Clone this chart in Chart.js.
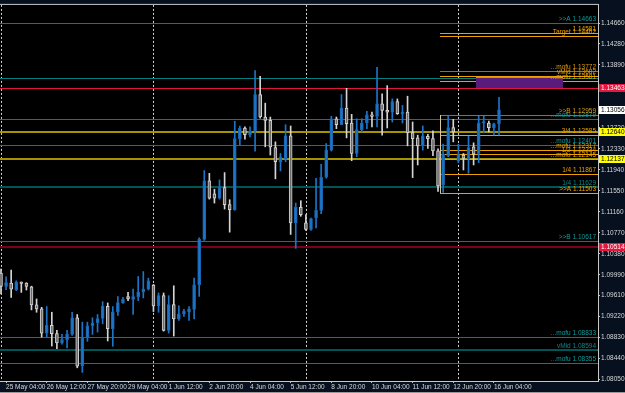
<!DOCTYPE html>
<html>
<head>
<meta charset="utf-8">
<script src="https://cdn.jsdelivr.net/npm/chart.js@4.4.0/dist/chart.umd.min.js"></script>
<style>
  html, body { margin: 0; padding: 0; background: #06101f; }
  #wrap { width: 625px; height: 393px; }
</style>
</head>
<body>
<div id="wrap"><canvas id="chart" width="625" height="393"></canvas></div>
<script>
// EURUSD H4, candle 0 = 25 May 00:00 ... candle 98 = 16 Jun 08:00
var open = [
  1.10022, 1.09775, 1.09838, 1.09715, 1.09856, 1.09838, 1.09770, 1.09433, 1.09359, 1.08909,
  1.09051, 1.08898, 1.08725, 1.08787, 1.08885, 1.09193, 1.08301, 1.08824, 1.09045, 1.09101,
  1.09180, 1.09407, 1.08990, 1.09303, 1.09475, 1.09585, 1.09536, 1.09585, 1.09672, 1.09727,
  1.09801, 1.09414, 1.09604, 1.08959, 1.09438, 1.09174, 1.09267, 1.09303, 1.09350, 1.09807,
  1.10649, 1.11737, 1.11497, 1.11416, 1.11613, 1.11294, 1.11202, 1.12522, 1.12719, 1.12596,
  1.12658, 1.13340, 1.12922, 1.12861, 1.12356, 1.12092, 1.12142, 1.12572, 1.10955, 1.11244,
  1.10955, 1.10833, 1.11047, 1.11189, 1.11803, 1.12308, 1.12891, 1.12780, 1.13088, 1.12811,
  1.12245, 1.12688, 1.12811, 1.12964, 1.12935, 1.13167, 1.13045, 1.13014, 1.13211, 1.12983,
  1.13014, 1.12632, 1.12535, 1.12387, 1.12566, 1.12522, 1.12295, 1.11663, 1.12203, 1.12725,
  1.12105, 1.12216, 1.12153, 1.12369, 1.12245, 1.12811, 1.12811, 1.12725, 1.12798
];
var high = [
  1.10096, 1.09954, 1.10078, 1.09880, 1.09860, 1.09845, 1.09780, 1.09543, 1.09388, 1.09401,
  1.09296, 1.08959, 1.08885, 1.08959, 1.09296, 1.09254, 1.09112, 1.09112, 1.09193, 1.09254,
  1.09493, 1.09469, 1.09401, 1.09585, 1.09573, 1.09665, 1.09727, 1.09960, 1.10052, 1.09930,
  1.09812, 1.09654, 1.09654, 1.09604, 1.09788, 1.09414, 1.09350, 1.09401, 1.09930, 1.10679,
  1.11927, 1.11877, 1.11582, 1.11755, 1.11890, 1.11386, 1.12843, 1.12756, 1.12738, 1.12738,
  1.13783, 1.13678, 1.13180, 1.12922, 1.12461, 1.12245, 1.12780, 1.12756, 1.11324, 1.11368,
  1.11110, 1.11047, 1.11785, 1.12043, 1.12430, 1.12935, 1.12922, 1.13340, 1.13456, 1.12972,
  1.12891, 1.12891, 1.13027, 1.13014, 1.13844, 1.13351, 1.13506, 1.13259, 1.13259, 1.13138,
  1.13309, 1.12830, 1.12585, 1.12756, 1.12603, 1.12664, 1.12332, 1.12419, 1.12940, 1.12879,
  1.12419, 1.12245, 1.12566, 1.12443, 1.12935, 1.12935, 1.12845, 1.12811, 1.13290
];
var low = [
  1.09635, 1.09715, 1.09573, 1.09696, 1.09665, 1.09709, 1.09340, 1.09296, 1.08835, 1.08835,
  1.08669, 1.08621, 1.08701, 1.08632, 1.08867, 1.08264, 1.08179, 1.08756, 1.08885, 1.08927,
  1.09082, 1.08762, 1.08664, 1.09235, 1.09462, 1.09512, 1.09254, 1.09512, 1.09562, 1.09709,
  1.09309, 1.09296, 1.08946, 1.08909, 1.08854, 1.09143, 1.09217, 1.09143, 1.09174, 1.09591,
  1.10630, 1.11397, 1.11324, 1.11397, 1.11213, 1.10784, 1.11189, 1.12411, 1.12511, 1.12553,
  1.12290, 1.12903, 1.12369, 1.12216, 1.11774, 1.11921, 1.12092, 1.10741, 1.10483, 1.11079,
  1.10815, 1.10815, 1.10863, 1.11128, 1.11785, 1.12290, 1.12706, 1.12780, 1.12535, 1.12111,
  1.12185, 1.12645, 1.12706, 1.12738, 1.12738, 1.12585, 1.12719, 1.12830, 1.12972, 1.12811,
  1.12387, 1.11797, 1.12032, 1.12308, 1.12338, 1.12203, 1.11540, 1.11521, 1.12185, 1.12461,
  1.12074, 1.11939, 1.11877, 1.12032, 1.12074, 1.12627, 1.12645, 1.12585, 1.12585
];
var close = [
  1.09775, 1.09849, 1.09727, 1.09856, 1.09831, 1.09775, 1.09433, 1.09359, 1.08909, 1.09051,
  1.08898, 1.08725, 1.08787, 1.08885, 1.09193, 1.08295, 1.08824, 1.09045, 1.09101, 1.09180,
  1.09407, 1.08990, 1.09303, 1.09475, 1.09536, 1.09543, 1.09585, 1.09672, 1.09727, 1.09880,
  1.09414, 1.09604, 1.08959, 1.09438, 1.09174, 1.09267, 1.09315, 1.09359, 1.09807, 1.10649,
  1.11737, 1.11416, 1.11416, 1.11613, 1.11294, 1.11202, 1.12522, 1.12719, 1.12596, 1.12658,
  1.13340, 1.12922, 1.12861, 1.12369, 1.12092, 1.12185, 1.12572, 1.10955, 1.11244, 1.11110,
  1.10833, 1.11036, 1.11189, 1.11803, 1.12308, 1.12891, 1.12780, 1.13088, 1.12798, 1.12245,
  1.12688, 1.12811, 1.12964, 1.12935, 1.13167, 1.13045, 1.13014, 1.13211, 1.12983, 1.13014,
  1.12632, 1.12522, 1.12387, 1.12572, 1.12522, 1.12295, 1.11644, 1.12234, 1.12725, 1.12645,
  1.12227, 1.12153, 1.12356, 1.12234, 1.12811, 1.12836, 1.12725, 1.12798, 1.13056
];

// time axis
var xTickIdx = [1, 9, 17, 25, 33, 41, 49, 57, 65, 73, 81, 89, 97];
var xTickLabels = ['25 May 04:00', '26 May 12:00', '27 May 20:00', '29 May 04:00', '1 Jun 12:00',
  '2 Jun 20:00', '4 Jun 04:00', '5 Jun 12:00', '8 Jun 20:00', '10 Jun 04:00', '11 Jun 12:00',
  '12 Jun 20:00', '16 Jun 04:00'];
var weekStarts = [0, 30, 60, 90];

// price axis
var yTicks = [1.14660, 1.14280, 1.13890, 1.12720, 1.12330, 1.11940, 1.11550, 1.11160,
  1.10770, 1.10380, 1.09990, 1.09610, 1.09220, 1.08830, 1.08440, 1.08050];

// horizontal levels drawn on the chart
var tealLevels = [1.14663, 1.13641, 1.12879, 1.12401, 1.10617, 1.08833, 1.08355];
var tealLabels = ['>>A 1.14663', '', '...mofu 1.12879', '...mofu 1.12401', '>>B 1.10617', '...mofu 1.08833', '...mofu 1.08355'];
var tealDarkLevels = [1.11629, 1.08594];
var tealDarkLabels = ['1/4 1.11629', 'vMid 1.08594'];
var orangeLevels = [1.14489, 1.14421, 1.13682, 1.13595, 1.12585, 1.12317, 1.12234, 1.12145, 1.11867, 1.11503];
var orangeLabels = ['1.14581', 'Target 1.14462', 'vMid 1.13682', '...mofu 1.13581', '3/4 1.12585',
  '...mofu 1.12317', '1/2 1.12234', '...mofu 1.12145', '1/4 1.11867', '>>A 1.11503'];
var brownLevels = [1.13772, 1.12959];
var brownLabels = ['...mofu 1.13772', '>>B 1.12959'];
var yellowLevels = [1.12640, 1.12137];
var redLevels = [1.13463];
var darkRedLevels = [1.10514];
var levelStart = 86.4;              // candle index where the short levels begin
var bracket = [1.12959, 1.11503];   // vertical bracket at levelStart
var zoneX = [93.5, 110.6];
var zoneY = [1.13463, 1.13667];

var FONT = '6.5px "Liberation Sans"';
var BULL = '#1d74c8';
var BEAR_FILL = '#6c6c6c';
var BEAR_EDGE = '#d4d4d4';

function isBull(i) { return close[i] >= open[i]; }

var idx = close.map(function (v, i) { return i; });

var overlay = {
  id: 'overlay',
  beforeDraw: function (chart) {
    var c = chart.ctx, a = chart.chartArea;
    c.save();
    c.fillStyle = '#06101f';
    c.fillRect(0, 0, chart.width, chart.height);
    c.fillStyle = '#000000';
    c.fillRect(a.left, a.top, a.right - a.left, a.bottom - a.top);
    c.fillStyle = '#9a9a9a';
    c.fillRect(0, chart.height - 1, chart.width, 1);
    c.restore();
  },
  beforeDatasetsDraw: function (chart) {
    var c = chart.ctx, a = chart.chartArea, xs = chart.scales.x, ys = chart.scales.y;
    var x0 = Math.round(xs.getPixelForValue(levelStart));
    c.save();
    c.beginPath();
    c.rect(a.left, a.top, a.right - a.left, a.bottom - a.top);
    c.clip();

    c.strokeStyle = '#d8d8d8';
    c.lineWidth = 1;
    c.setLineDash([2, 2]);
    weekStarts.forEach(function (i) {
      var px = Math.round(xs.getPixelForValue(i)) + 0.5;
      c.beginPath(); c.moveTo(px, a.top); c.lineTo(px, a.bottom); c.stroke();
    });
    c.setLineDash([]);

    function hline(v, from, color, w) {
      var y = Math.round(ys.getPixelForValue(v)) + (w % 2 ? 0.5 : 0);
      c.strokeStyle = color; c.lineWidth = w;
      c.beginPath(); c.moveTo(from, y); c.lineTo(a.right, y); c.stroke();
    }
    tealLevels.forEach(function (v) { hline(v, a.left, '#008080', 1); });
    tealDarkLevels.forEach(function (v) { hline(v, a.left, '#005656', 2); });
    yellowLevels.forEach(function (v) { hline(v, a.left, '#a39400', 2); });
    redLevels.forEach(function (v) { hline(v, a.left, '#e0153e', 1); });
    darkRedLevels.forEach(function (v) { hline(v, a.left, '#7a0018', 2); });
    orangeLevels.forEach(function (v) { hline(v, x0, '#eea000', 1); });
    brownLevels.forEach(function (v) { hline(v, x0, '#a86a10', 1); });

    // bracket
    c.strokeStyle = '#d8c8a0'; c.lineWidth = 1;
    c.beginPath();
    c.moveTo(x0 + 0.5, Math.round(ys.getPixelForValue(bracket[0])));
    c.lineTo(x0 + 0.5, Math.round(ys.getPixelForValue(bracket[1])));
    c.stroke();

    // zone
    var zx0 = Math.round(xs.getPixelForValue(zoneX[0])), zx1 = Math.round(xs.getPixelForValue(zoneX[1]));
    var zy0 = Math.round(ys.getPixelForValue(zoneY[1])), zy1 = Math.round(ys.getPixelForValue(zoneY[0]));
    c.fillStyle = '#5a1c7c';
    c.fillRect(zx0, zy0, zx1 - zx0, zy1 - zy0);
    c.fillStyle = '#9c86e0';
    c.fillRect(zx0, zy0, zx1 - zx0, 1);
    c.restore();
  },
  afterDatasetsDraw: function (chart) {
    var c = chart.ctx, a = chart.chartArea, ys = chart.scales.y;
    c.save();
    c.font = FONT;
    c.textAlign = 'right';
    c.textBaseline = 'middle';
    function label(v, txt, color) {
      if (!txt) return;
      c.fillStyle = color;
      c.fillText(txt, a.right - 2, Math.round(ys.getPixelForValue(v)) - 4);
    }
    tealLevels.forEach(function (v, i) { label(v, tealLabels[i], '#0d9c9c'); });
    tealDarkLevels.forEach(function (v, i) { label(v, tealDarkLabels[i], '#12828a'); });
    orangeLevels.forEach(function (v, i) { label(v, orangeLabels[i], '#eaa200'); });
    brownLevels.forEach(function (v, i) { label(v, brownLabels[i], '#e09a10'); });
    c.restore();
  },
  afterDraw: function (chart) {
    var c = chart.ctx, a = chart.chartArea, ys = chart.scales.y;
    c.save();
    c.fillStyle = '#c8c8c8';
    c.fillRect(a.left, a.top - 1, a.right - a.left, 1);
    c.font = FONT;
    c.textAlign = 'left';
    c.textBaseline = 'middle';
    function flag(v, bg, fg) {
      var y = Math.round(ys.getPixelForValue(v));
      c.fillStyle = bg;
      c.fillRect(a.right + 1, y - 4, chart.width - a.right - 1, 8);
      c.fillStyle = fg;
      c.fillText(v.toFixed(5), a.right + 3, y);
    }
    redLevels.forEach(function (v) { flag(v, '#e3173f', '#ffffff'); });
    darkRedLevels.forEach(function (v) { flag(v, '#e3173f', '#ffffff'); });
    yellowLevels.forEach(function (v) { flag(v, '#ffff00', '#000000'); });
    flag(close[close.length - 1], '#ffffff', '#000000');
    c.restore();
  }
};

var ctx = document.getElementById('chart');

var chart = new Chart(ctx, {
  type: 'bar',
  data: {
    datasets: [{
      label: 'wick',
      data: idx.map(function (i) { return { x: i, y: [low[i], high[i]] }; }),
      backgroundColor: function (c) { return isBull(c.dataIndex) ? BULL : BEAR_EDGE; },
      borderWidth: 0,
      barThickness: 1,
      grouped: false,
      order: 2
    }, {
      label: 'body',
      data: idx.map(function (i) { return { x: i, y: [open[i], close[i]] }; }),
      backgroundColor: function (c) { return isBull(c.dataIndex) ? BULL : BEAR_FILL; },
      borderColor: function (c) { return isBull(c.dataIndex) ? '#1866b0' : BEAR_EDGE; },
      borderWidth: 1,
      borderSkipped: false,
      barThickness: 3,
      minBarLength: 1,
      grouped: false,
      order: 1
    }]
  },
  options: {
    responsive: false,
    animation: false,
    devicePixelRatio: 1,
    layout: { padding: { top: 2, left: 0, right: 0, bottom: 0 } },
    plugins: {
      legend: { display: false },
      title: { display: false },
      tooltip: { enabled: false }
    },
    scales: {
      x: {
        type: 'linear',
        min: -0.197,
        max: 117.48,
        offset: false,
        grid: { display: true, drawOnChartArea: false, drawTicks: true, tickLength: 2, color: '#c8c8c8', offset: false },
        border: { display: true, color: '#c8c8c8' },
        afterBuildTicks: function (scale) {
          scale.ticks = xTickIdx.map(function (v) { return { value: v }; });
        },
        afterFit: function (scale) { scale.height = 12; },
        ticks: {
          autoSkip: false,
          maxRotation: 0,
          align: 'start',
          padding: 0,
          color: '#d8d8d8',
          font: { family: 'Liberation Sans', size: 6.5 },
          callback: function (v, i) { return xTickLabels[i]; }
        }
      },
      y: {
        type: 'linear',
        position: 'right',
        min: 1.08019,
        max: 1.15005,
        grid: { display: true, drawOnChartArea: false, drawTicks: true, tickLength: 2, color: '#c8c8c8' },
        border: { display: true, color: '#c8c8c8' },
        afterBuildTicks: function (scale) {
          scale.ticks = yTicks.map(function (v) { return { value: v }; });
        },
        afterFit: function (scale) { scale.width = 27; },
        ticks: {
          padding: 1,
          color: '#d8d8d8',
          font: { family: 'Liberation Sans', size: 6.5 },
          callback: function (v) { return v.toFixed(5); }
        }
      }
    }
  },
  plugins: [overlay]
});
</script>
</body>
</html>
